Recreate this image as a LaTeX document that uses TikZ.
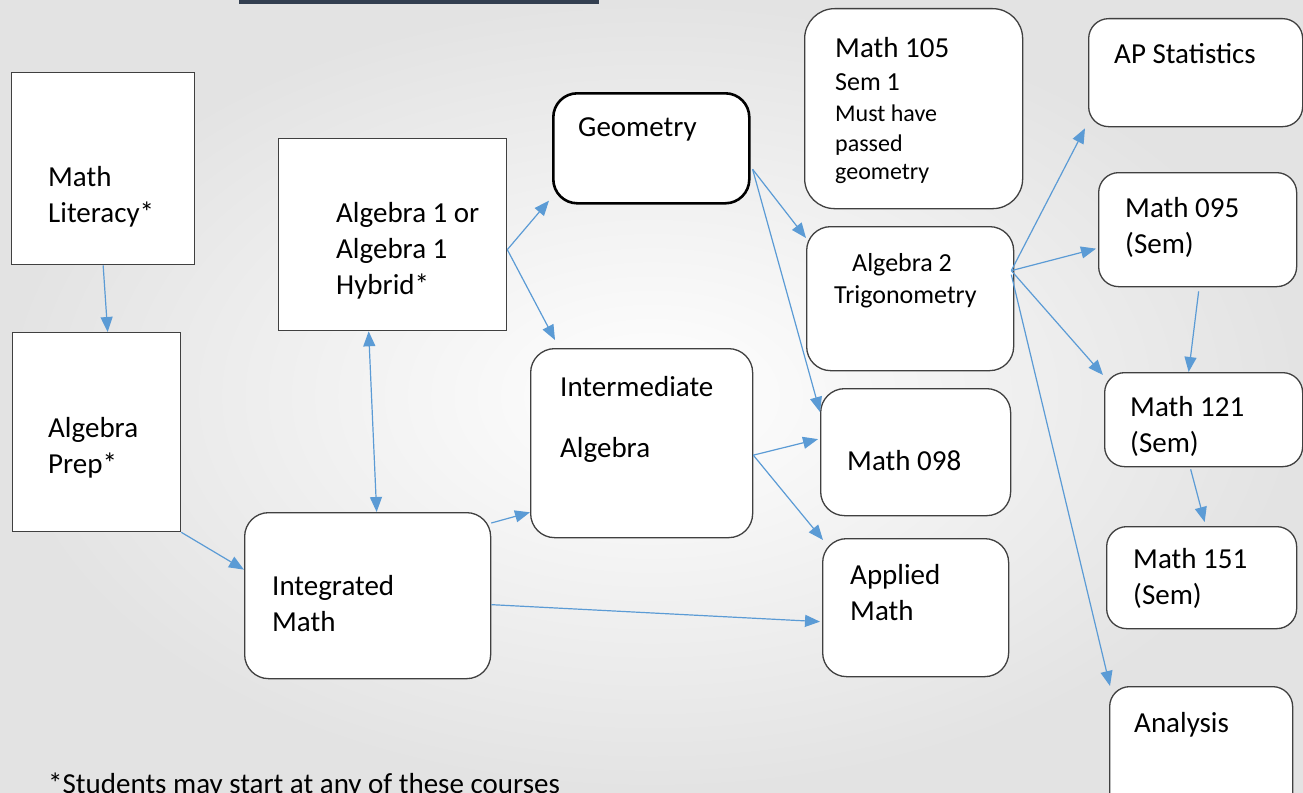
\documentclass[tikz,border=0pt]{standalone}
\usepackage{fontspec}
\setmainfont{Carlito}
\usetikzlibrary{arrows.meta,positioning}
\definecolor{boxgray}{HTML}{404040}
\definecolor{linkblue}{HTML}{5B9BD5}
\definecolor{barblue}{HTML}{333F50}

\begin{document}
\begin{tikzpicture}[x=1pt, y=-1pt,
  sqbox/.style={draw=boxgray, line width=1.3pt, fill=white, anchor=north west, inner sep=0pt},
  rbox/.style={sqbox, rounded corners=24pt},
  txt/.style={anchor=north west, inner sep=0pt, align=left, font=\fontsize{29}{36}\selectfont},
  link/.style={draw=linkblue, line width=1.2pt, -{Triangle[length=15pt,width=12pt]}}]
\clip (0,0) rectangle (1303,792);
\shade[inner color=white, outer color=black!11] (0,0) rectangle (1303,792);
\fill[barblue] (239,0) rectangle (599,4);

%starting courses
\node[sqbox, minimum width=183pt, minimum height=192pt] (lit) at (11,72) {};
\node[sqbox, minimum width=168pt, minimum height=199pt] (prep) at (12,332) {};
\node[sqbox, minimum width=228pt, minimum height=192pt] (alg1) at (278,138) {};
\node[rbox, minimum width=246pt, minimum height=166pt] (integ) at (244,512) {};
\node[txt] (litT) at (48,166) {Math\\Literacy*};
\node[txt] (prepT) at (48,417) {Algebra\\Prep*};
\node[txt] (alg1T) at (336,202) {Algebra 1 or\\Algebra 1\\Hybrid*};
\node[txt] (integT) at (272,575) {Integrated\\Math};

%second column
\node[rbox, draw=black, line width=2.6pt, minimum width=196pt, minimum height=110pt] (geo) at (552,92) {};
\node[rbox, minimum width=222pt, minimum height=189pt] (inter) at (530,348) {};
\node[txt] (geoT) at (578,117) {Geometry};
\node[txt] (interT) at (560,376) {Intermediate\\[25pt]Algebra};

%third column
\node[rbox, rounded corners=30pt, minimum width=218pt, minimum height=200pt] (m105) at (804,8) {};
\node[rbox, minimum width=207pt, minimum height=144pt] (alg2) at (806,226) {};
\node[rbox, minimum width=190pt, minimum height=127pt] (m098) at (820,388) {};
\node[rbox, minimum width=186pt, minimum height=138pt] (appl) at (822,538) {};
\node[txt, font=\fontsize{24}{30}\selectfont] (m105T) at (835,37)
  {{\fontsize{29}{29}\selectfont Math 105}\\[3pt]{\fontsize{26}{26}\selectfont Sem 1}\\[1pt]Must have\\passed\\[-2pt]geometry};
\node[txt, font=\fontsize{26}{32}\selectfont] (alg2T) at (834,253) {\hspace*{18pt}Algebra 2\\Trigonometry};
\node[txt] (m098T) at (847,450) {Math 098};
\node[txt] (applT) at (850,564) {Applied\\Math};

%college level
\node[rbox, rounded corners=20pt, minimum width=214pt, minimum height=108pt] (apstat) at (1088,18) {};
\node[rbox, rounded corners=20pt, minimum width=198pt, minimum height=114pt] (m095) at (1098,172) {};
\node[rbox, rounded corners=20pt, minimum width=198pt, minimum height=94pt] (m121) at (1104,372) {};
\node[rbox, rounded corners=20pt, minimum width=190pt, minimum height=102pt] (m151) at (1106,526) {};
\node[rbox, rounded corners=20pt, minimum width=183pt, minimum height=130pt] (anal) at (1109,686) {};
\node[txt] (apT) at (1114,43) {AP Statistics};
\node[txt] (m095T) at (1125,197) {Math 095\\(Sem)};
\node[txt] (m121T) at (1130,396) {Math 121\\(Sem)};
\node[txt] (m151T) at (1133,548) {Math 151\\(Sem)};
\node[txt] (analT) at (1134,712) {Analysis};

\node[txt] (noteT) at (48,773) {*Students may start at any of these courses};

%arrows
\coordinate (alg1out) at ([yshift=-15pt]alg1.east);
\coordinate (geoout) at ([shift={(2pt,-21pt)}]geo.east);
\coordinate (interout) at ([yshift=-12pt]inter.east);
\coordinate (alg2out) at ([shift={(-3pt,28pt)}]alg2.east);
\draw[link] (lit.south) -- ([xshift=11pt]prep.north);
\draw[link] (prep.south east) -- ([yshift=26pt]integ.west);
\draw[link, {Triangle[length=15pt,width=12pt]}-{Triangle[length=15pt,width=12pt]}] ([xshift=-24pt]alg1.south) -- ([xshift=9pt]integ.north);
\draw[link] (alg1out) -- ([shift={(-3pt,4pt)}]geo.south west);
\draw[link] (alg1out) -- ([shift={(25pt,8pt)}]inter.north west);
\draw[link] ([yshift=-11pt]integ.north east) -- ([yshift=26pt]inter.south west);
\draw[link] ([yshift=-9pt]integ.east) -- ([shift={(-2pt,-14pt)}]appl.west);
\draw[link] (geoout) -- ([yshift=-12pt]alg2.north west);
\draw[link] (geoout) -- ([yshift=-24pt]m098.north west);
\draw[link] (interout) -- ([shift={(-2pt,13pt)}]m098.west);
\draw[link] (interout) -- ([shift={(1pt,-2pt)}]appl.north west);
\draw[link] (alg2out) -- ([shift={(-3pt,-1pt)}]apstat.south west);
\draw[link] (alg2out) -- ([shift={(-2pt,-19pt)}]m095.west);
\draw[link] (alg2out) -- ([shift={(-1pt,-3pt)}]m121.north west);
\draw[link] ([yshift=-4pt]alg2out) -- ([xshift=1pt]anal.north west);
\draw[link] ([shift={(1pt,-4pt)}]m095.south) -- ([xshift=-15pt]m121.north);
\draw[link] ([shift={(-13pt,-2pt)}]m121.south) -- ([shift={(3pt,4pt)}]m151.north);
\end{tikzpicture}
\end{document}
